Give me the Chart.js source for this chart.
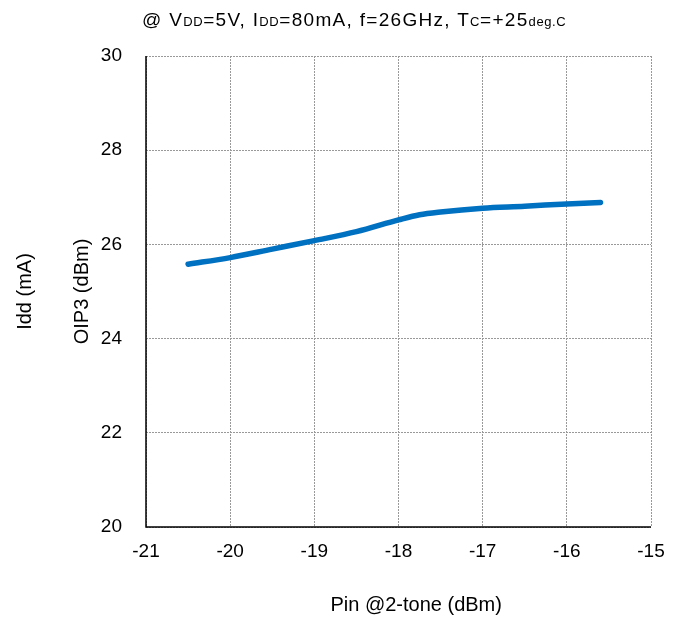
<!DOCTYPE html>
<html>
<head>
<meta charset="utf-8">
<script src="https://cdn.jsdelivr.net/npm/chart.js@4/dist/chart.umd.min.js"></script>
<style>
  body { margin: 0; background: #fff; }
  #wrap { position: relative; width: 683px; height: 617px; }
  #title {
    position: absolute; left: 142px; top: 9px;
    font-family: "Liberation Sans", Arial, sans-serif; font-size: 19px; color: #000;
    letter-spacing: 1.3px; white-space: nowrap;
  }
  #title small { font-size: 13px; letter-spacing: 0.6px; }
</style>
</head>
<body>
<div id="wrap">
  <canvas id="chart" width="683" height="617"></canvas>
  <div id="title">@ V<small>DD</small>=5V, I<small>DD</small>=80mA, f=26GHz, T<small>C</small>=+25<small>deg.C</small></div>
</div>
<script>
// --- DONNEES ---
const pin = [-20.5, -20, -19.5, -19, -18.5, -18, -17.75, -17.5, -17, -16.5, -16, -15.6];
const oip3 = [25.58, 25.72, 25.90, 26.08, 26.27, 26.52, 26.63, 26.69, 26.77, 26.81, 26.86, 26.89];
const xTicks = [-21, -20, -19, -18, -17, -16, -15];
const yTicks = [20, 22, 24, 26, 28, 30];
const xTitle = 'Pin @2-tone (dBm)';

const fontFamily = "'Liberation Sans', Arial, sans-serif";
const tickFont = { family: fontFamily, size: 19 };
const titleFont = { family: fontFamily, size: 20 };
const gridStyle = { color: '#999', lineWidth: 1, drawTicks: false };
const border = { display: false, dash: [2, 1] };

// bordure noire gauche et bas + titre de l'axe X (décalé à droite comme l'original)
const frame = {
  id: 'frame',
  afterDraw(chart) {
    const { ctx, chartArea: a } = chart;
    ctx.save();
    ctx.strokeStyle = '#000';
    ctx.lineWidth = 1.5;
    ctx.beginPath();
    ctx.moveTo(a.left, a.top);
    ctx.lineTo(a.left, a.bottom);
    ctx.lineTo(a.right, a.bottom);
    ctx.stroke();

    ctx.fillStyle = '#000';
    ctx.font = '20px ' + fontFamily;
    ctx.textAlign = 'center';
    ctx.textBaseline = 'middle';
    ctx.fillText(xTitle, a.left + (a.right - a.left) * 0.535, 605);
    ctx.restore();
  }
};

new Chart(document.getElementById('chart'), {
  type: 'line',
  data: {
    datasets: [{
      data: pin.map((x, i) => ({ x: x, y: oip3[i] })),
      borderColor: '#0070C0',
      borderWidth: 5.5,
      pointRadius: 0,
      cubicInterpolationMode: 'monotone',
      borderCapStyle: 'round',
      fill: false
    }]
  },
  options: {
    responsive: false,
    animation: false,
    layout: { padding: { left: 0, top: 56, right: 32, bottom: 0 } },
    plugins: { legend: { display: false }, tooltip: { enabled: false } },
    scales: {
      x: {
        type: 'linear', min: -21, max: -15,
        afterBuildTicks: s => { s.ticks = xTicks.map(v => ({ value: v })); },
        afterFit: s => { s.height = 90; },
        grid: gridStyle, border: border,
        ticks: { color: '#000', font: tickFont, padding: 13 }
      },
      y: {
        min: 20, max: 30, weight: 0,
        afterBuildTicks: s => { s.ticks = yTicks.map(v => ({ value: v })); },
        afterFit: s => { s.width = 96; },
        grid: gridStyle, border: border,
        ticks: { color: '#000', font: tickFont, padding: 24 },
        title: { display: true, text: 'OIP3 (dBm)', color: '#000', font: titleFont, padding: { top: 20 } }
      },
      y2: {
        position: 'left', min: 20, max: 30, weight: 1,
        afterFit: s => { s.width = 50; },
        grid: { display: false }, border: { display: false },
        ticks: { display: false },
        title: { display: true, text: 'Idd (mA)', color: '#000', font: titleFont, padding: { top: 13 } }
      }
    }
  },
  plugins: [frame]
});
</script>
</body>
</html>
